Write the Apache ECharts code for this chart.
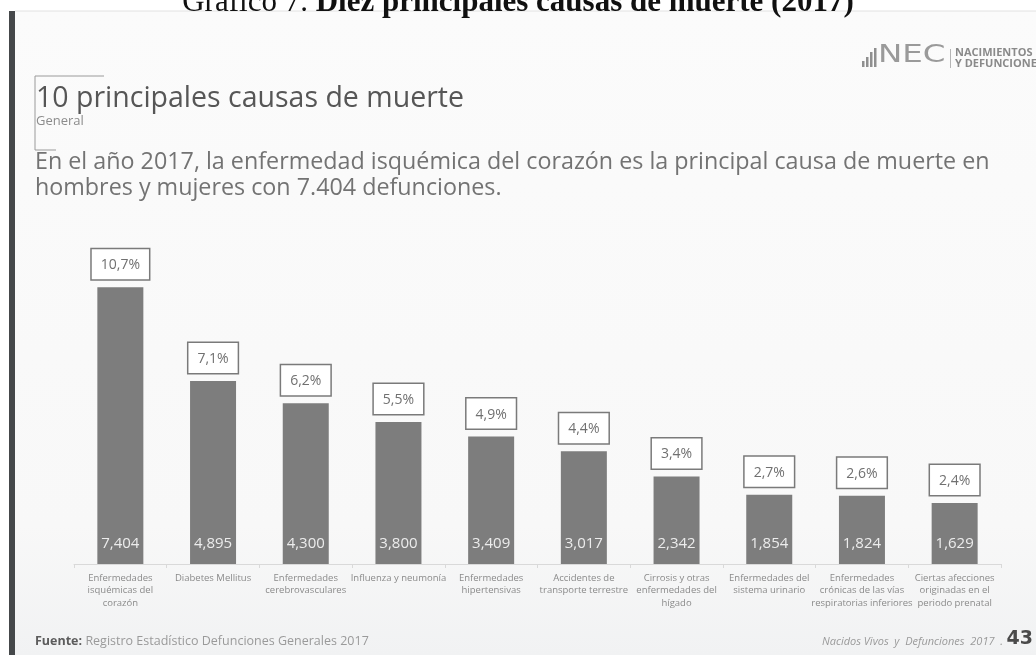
<!DOCTYPE html>
<html>
<head>
<meta charset="utf-8">
<script src="https://cdn.jsdelivr.net/npm/echarts@6/dist/echarts.min.js"></script>
<style>
  html, body { margin: 0; padding: 0; background: #ffffff; }
  #chart { width: 1036px; height: 655px; }
</style>
</head>
<body>
<div id="chart"></div>
<script>
// Causes of death, 2017 (INEC – Nacimientos y Defunciones)
const categories = [
  'Enfermedades\nisquémicas del\ncorazón',
  'Diabetes Mellitus',
  'Enfermedades\ncerebrovasculares',
  'Influenza y neumonía',
  'Enfermedades\nhipertensivas',
  'Accidentes de\ntransporte terrestre',
  'Cirrosis y otras\nenfermedades del\nhígado',
  'Enfermedades del\nsistema urinario',
  'Enfermedades\ncrónicas de las vías\nrespiratorias inferiores',
  'Ciertas afecciones\noriginadas en el\nperiodo prenatal'
];
const deaths = [7404, 4895, 4300, 3800, 3409, 3017, 2342, 1854, 1824, 1629];
const shares = ['10,7%', '7,1%', '6,2%', '5,5%', '4,9%', '4,4%', '3,4%', '2,7%', '2,6%', '2,4%'];

const FONT = '"Open Sans", "DejaVu Sans", sans-serif';
const chart = echarts.init(document.getElementById('chart'), null, { renderer: 'canvas' });

const fmtCount = v => v.toLocaleString('en-US');

chart.setOption({
  backgroundColor: '#ffffff',
  animation: false,
  textStyle: { fontFamily: FONT },
  grid: { left: 74, right: 35, top: 265, bottom: 91, containLabel: false },
  xAxis: {
    type: 'category',
    data: categories,
    axisLine: { lineStyle: { color: '#d9d9d9', width: 1 } },
    axisTick: { show: true, length: 4, lineStyle: { color: '#d9d9d9' } },
    axisLabel: {
      interval: 0, margin: 8, color: '#8a8a8a', fontSize: 9.5, lineHeight: 12.5,
      fontFamily: FONT, align: 'center'
    }
  },
  yAxis: { type: 'value', min: 0, max: 8000, show: false, splitLine: { show: false } },
  series: [
    {
      type: 'bar',
      data: deaths,
      barWidth: 46,
      itemStyle: { color: '#7d7d7d' },
      label: {
        show: true, position: 'insideBottom', distance: 13,
        color: '#ececec', fontSize: 15, fontFamily: FONT,
        formatter: p => fmtCount(p.value)
      },
      z: 2
    },
    {
      type: 'bar',
      data: deaths,
      barWidth: 46,
      barGap: '-100%',
      silent: true,
      itemStyle: { color: 'rgba(0,0,0,0)' },
      label: {
        show: true, position: 'top', distance: 8,
        color: '#707070', fontSize: 14, fontFamily: FONT,
        backgroundColor: '#ffffff', borderColor: '#7a7a7a', borderWidth: 1.5,
        padding: [9, 9, 7, 9],
        formatter: p => shares[p.dataIndex]
      },
      z: 3
    }
  ],
  graphic: [
    // slide background and left rule
    { type: 'rect', z: -10, shape: { x: 15, y: 11, width: 1021, height: 644 },
      style: { fill: new echarts.graphic.LinearGradient(0, 0, 0, 1, [
        { offset: 0, color: '#fbfbfb' }, { offset: 0.8, color: '#f8f8f8' }, { offset: 1, color: '#f1f2f3' }]) } },
    { type: 'rect', z: -5, shape: { x: 9, y: 11, width: 6, height: 644 }, style: { fill: '#45484a' } },
    { type: 'line', z: -5, shape: { x1: 15, y1: 11, x2: 1036, y2: 11 }, style: { stroke: '#e2e2e2', lineWidth: 1 } },

    // document caption above the slide
    { type: 'text', z: 10, left: 'center', top: -13,
      style: {
        text: '{n|Gráfico 7. }{b|Diez principales causas de muerte (2017)}',
        rich: {
          n: { fontFamily: '"Liberation Serif", "Times New Roman", serif', fontSize: 31, fill: '#111' },
          b: { fontFamily: '"Liberation Serif", "Times New Roman", serif', fontSize: 31, fontWeight: 'bold', fill: '#111' }
        }
      } },

    // bracket around the heading
    { type: 'polyline', shape: { points: [[104, 76], [35, 76], [35, 150], [56, 150]] },
      style: { stroke: '#9a9a9a', lineWidth: 1, fill: null } },

    // heading block
    { type: 'text', left: 36, top: 84,
      style: { text: '10 principales causas de muerte', fontFamily: FONT, fontSize: 28.5, fill: '#565656' } },
    { type: 'text', left: 36, top: 115,
      style: { text: 'General', fontFamily: FONT, fontSize: 13, fill: '#8c8c8c' } },
    { type: 'text', left: 35, top: 149,
      style: { text: 'En el año 2017, la enfermedad isquémica del corazón es la principal causa de muerte en\nhombres y mujeres con 7.404 defunciones.',
        fontFamily: FONT, fontSize: 23.3, lineHeight: 26, fill: '#737373' } },

    // logo
    { type: 'group', left: 862, top: 43, children: [
      { type: 'rect', shape: { x: 0, y: 13, width: 2.5, height: 6 }, style: { fill: '#8f8f8f' } },
      { type: 'rect', shape: { x: 4, y: 9, width: 2.5, height: 10 }, style: { fill: '#8f8f8f' } },
      { type: 'rect', shape: { x: 8, y: 4, width: 2.5, height: 15 }, style: { fill: '#8f8f8f' } },
      { type: 'rect', shape: { x: 12, y: 0, width: 2.5, height: 19 }, style: { fill: '#8f8f8f' } },
      { type: 'text', x: 16, y: -5, scaleX: 1.3, style: { text: 'NEC', fontFamily: '"DejaVu Sans", sans-serif', fontSize: 25, fill: '#9a9a9a' } },
      { type: 'rect', shape: { x: 88, y: 1, width: 1, height: 19 }, style: { fill: '#b5b5b5' } },
      { type: 'text', x: 93, y: -1, style: { text: 'NACIMIENTOS\nY DEFUNCIONES', fontFamily: FONT, fontSize: 11, lineHeight: 11.5, fontWeight: 'bold', fill: '#8a8a8a' } }
    ] },

    // footer
    { type: 'text', left: 35, top: 635,
      style: { text: '{a|Fuente:} {b|Registro Estadístico Defunciones Generales 2017}',
        rich: {
          a: { fontFamily: FONT, fontSize: 12.5, fontWeight: 'bold', fill: '#5c5c5c' },
          b: { fontFamily: FONT, fontSize: 12.5, fill: '#9a9a9a' }
        } } },
    { type: 'text', right: 33, top: 636,
      style: { text: 'Nacidos Vivos  y  Defunciones  2017  .', fontFamily: FONT, fontSize: 11, fontStyle: 'italic', fill: '#9a9a9a' } },
    { type: 'text', right: 3, top: 630,
      style: { text: '43', fontFamily: '"DejaVu Sans", sans-serif', fontSize: 19, fontWeight: 'bold', fill: '#4a4a4a' } }
  ]
});
</script>
</body>
</html>
